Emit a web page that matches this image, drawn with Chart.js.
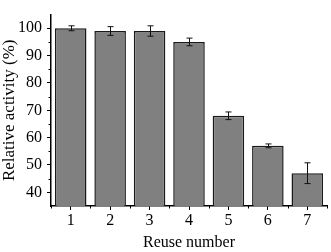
<!DOCTYPE html>
<html>
<head>
<meta charset="utf-8">
<script src="https://cdn.jsdelivr.net/npm/chart.js@4"></script>
<style>
  html, body { margin: 0; padding: 0; background: #fff; }
  #wrap { width: 331px; height: 252px; }
</style>
</head>
<body>
<div id="wrap"><canvas id="reuse" width="331" height="252"></canvas></div>
<script>
const reuseNumbers = ['1', '2', '3', '4', '5', '6', '7'];
const activity = [100, 99, 99, 95, 68, 57, 47];
const activityErr = [0.9, 1.6, 1.9, 1.4, 1.4, 0.7, 3.8];

const FONT = "'Liberation Serif', 'Times New Roman', serif";

// error bars drawn from the y scale
const errorBars = {
    id: 'errorBars',
    afterDatasetsDraw(chart) {
        const { ctx, scales: { y } } = chart;
        const meta = chart.getDatasetMeta(0);
        ctx.save();
        ctx.strokeStyle = '#111';
        ctx.lineWidth = 1;
        meta.data.forEach((bar, i) => {
            const top = y.getPixelForValue(activity[i] + activityErr[i]);
            const bot = y.getPixelForValue(activity[i] - activityErr[i]);
            const cx = Math.round(bar.x) + 0.5;
            ctx.beginPath();
            ctx.moveTo(cx, top); ctx.lineTo(cx, bot);
            ctx.moveTo(cx - 3, top); ctx.lineTo(cx + 3, top);
            ctx.moveTo(cx - 3, bot); ctx.lineTo(cx + 3, bot);
            ctx.stroke();
        });
        ctx.restore();
    }
};

// shorter minor ticks on both axes
const minorTicks = {
    id: 'minorTicks',
    afterDraw(chart) {
        const { ctx, scales: { x, y } } = chart;
        ctx.save();
        ctx.strokeStyle = '#000';
        ctx.lineWidth = 1;
        ctx.beginPath();
        y.ticks.forEach((t, i) => {
            if (t.value % 10 !== 0 && t.value > y.min && t.value < y.max) {
                const py = Math.round(y.getPixelForTick(i)) + 0.5;
                ctx.moveTo(y.right - 2.5, py);
                ctx.lineTo(y.right, py);
            }
        });
        const n = reuseNumbers.length;
        for (let i = 0; i <= n; i++) {
            const px = Math.round(x.left + i * x.width / n) + 0.5;
            ctx.moveTo(px, x.top);
            ctx.lineTo(px, x.top + 2.5);
        }
        ctx.stroke();
        ctx.restore();
    }
};

new Chart(document.getElementById('reuse'), {
    type: 'bar',
    data: {
        labels: reuseNumbers,
        datasets: [{
            data: activity,
            backgroundColor: '#808080',
            borderColor: '#1a1a1a',
            borderWidth: 1.5,
            categoryPercentage: 0.8,
            barPercentage: 1.0
        }]
    },
    options: {
        responsive: false,
        devicePixelRatio: 1,
        animation: false,
        layout: { padding: { top: 2, right: 4, left: 0, bottom: 0 } },
        plugins: {
            legend: { display: false },
            tooltip: { enabled: false }
        },
        scales: {
            x: {
                offset: true,
                afterFit: s => { s.height = 46; },
                grid: {
                    offset: false,
                    drawOnChartArea: false,
                    tickLength: 4,
                    tickColor: '#000'
                },
                border: { color: '#000', width: 1.5 },
                ticks: {
                    color: '#000',
                    padding: 1.5,
                    maxRotation: 0,
                    font: { family: FONT, size: 16 }
                },
                title: {
                    display: true,
                    text: 'Reuse number',
                    color: '#000',
                    padding: { top: 3, bottom: 1 },
                    font: { family: FONT, size: 16, lineHeight: 1 }
                }
            },
            y: {
                min: 35,
                max: 105,
                afterFit: s => { s.width = 51; },
                grid: {
                    drawOnChartArea: false,
                    tickLength: 4,
                    tickColor: ctx => (ctx.tick && ctx.tick.value % 10 === 0) ? '#000' : 'rgba(0,0,0,0)'
                },
                border: { color: '#000', width: 1.5 },
                ticks: {
                    stepSize: 5,
                    autoSkip: false,
                    color: '#000',
                    padding: 5,
                    font: { family: FONT, size: 16 },
                    callback: v => (v % 10 === 0 ? v : '')
                },
                title: {
                    display: true,
                    text: 'Relative activity (%)',
                    color: '#000',
                    padding: { top: 1, bottom: 0 },
                    font: { family: FONT, size: 17, lineHeight: 1 }
                }
            }
        }
    },
    plugins: [errorBars, minorTicks]
});
</script>
</body>
</html>
